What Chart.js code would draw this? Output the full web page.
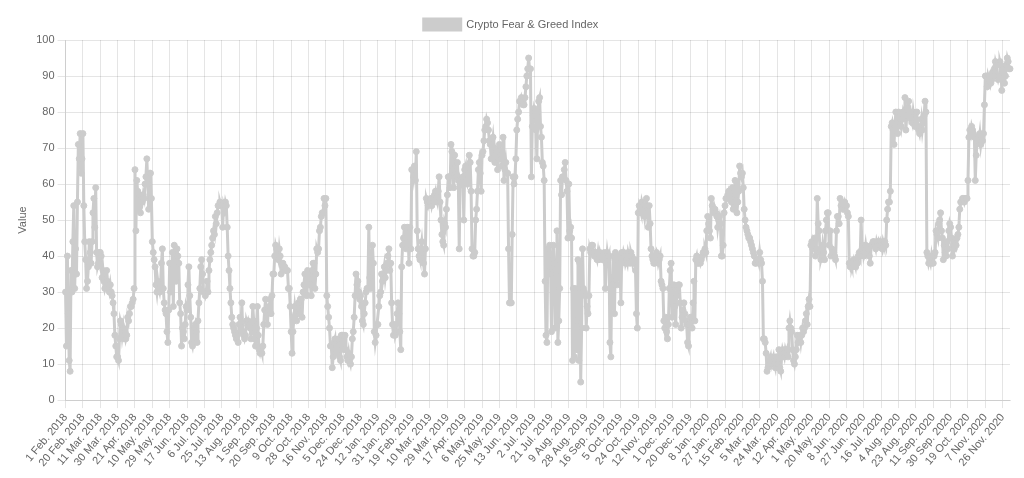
<!DOCTYPE html>
<html>
<head>
<meta charset="utf-8">
<title>Crypto Fear &amp; Greed Index</title>
<script src="https://cdn.jsdelivr.net/npm/chart.js@4.4.1/dist/chart.umd.min.js"></script>
<style>
    html, body { margin: 0; padding: 0; background: #fff; }
    #wrap { width: 1024px; height: 478px; }
</style>
</head>
<body>
<div id="wrap"><canvas id="fngChart"></canvas></div>
<script>
/* ===============================
   DATA (daily index values)
   one row = 19 days = one x tick
   =============================== */
const seriesLabel = "Crypto Fear & Greed Index";

// first day of the series and the days absent from the feed
const firstDay = "2018-02-01";
const missingDays = ["2018-04-14", "2018-04-15", "2018-04-16"];
const monthNames = ["Jan", "Feb", "Mar", "Apr", "May", "Jun", "Jul", "Aug", "Sep", "Oct", "Nov", "Dec"];

// 1 Feb 2018 .. 31 Dec 2018
const values2018 = [
    30,15,40,24,11,8,36,30,44,54,31,42,35,55,71,67,74,63,67,
    74,54,44,39,31,33,37,44,41,38,44,52,56,48,59,41,37,38,41,
    41,40,34,36,33,31,32,36,33,31,30,32,30,29,27,24,18,15,12,
    12,11,17,22,21,18,20,17,19,17,18,23,22,24,26,26,27,28,31,
    64,47,61,58,53,57,52,56,55,57,56,60,62,67,60,53,63,63,56,
    44,41,39,37,32,30,33,31,30,32,38,42,31,27,25,24,19,16,25,
    38,30,35,41,26,43,40,33,42,40,38,27,24,15,20,19,17,21,26,
    25,32,37,29,23,16,15,17,20,21,19,16,22,27,31,37,39,35,30,
    30,29,30,33,30,36,39,41,43,45,47,46,51,49,52,54,54,55,54,
    54,48,54,53,55,54,48,40,36,31,27,23,21,20,19,18,17,18,16,
    21,23,19,27,19,18,17,18,22,21,22,21,20,17,20,26,22,17,15,
    20,26,18,14,13,14,13,15,21,25,28,24,21,25,26,28,24,29,35,
    35,40,43,42,40,39,42,40,35,38,38,37,37,36,36,36,31,31,26,
    19,13,19,23,26,24,22,26,27,24,28,28,23,30,32,35,32,29,36,
    32,35,32,29,36,38,38,31,35,42,41,42,47,48,51,52,52,56,54,
    56,29,26,23,20,15,15,9,12,16,17,13,15,14,17,12,11,18,18,
    18,14,18,14,12,11,13,11,10,12,17,19,23,29,35,32,33,30,28,
    29,26,22,21,24,27,30,31
];

// 1 Jan 2019 .. 31 Dec 2019
const values2019 = [
                            31,48,34,31,38,43,38,19,16,18,21,
    21,26,29,30,35,33,35,37,34,36,38,40,42,36,38,27,21,18,21,
    18,19,24,27,24,19,14,37,43,45,48,45,42,48,46,38,48,42,64,
    64,62,65,61,69,47,42,40,39,42,44,41,38,35,42,56,55,54,55,
    55,56,54,55,55,57,58,56,55,58,62,55,50,46,44,43,49,48,53,
    57,62,62,59,71,69,64,59,68,65,62,66,61,42,61,60,60,62,50,
    64,65,61,60,61,68,66,58,42,40,40,41,50,53,58,64,66,63,58,
    68,69,72,75,76,78,77,75,72,71,67,71,73,70,66,68,69,64,67,
    71,68,67,65,73,61,64,66,63,63,42,27,27,27,46,62,60,62,67,
    75,78,80,83,83,84,83,82,82,84,87,90,92,95,92,92,62,76,79,
    81,80,75,67,80,83,84,76,73,66,65,61,33,18,16,42,35,43,37,
    19,39,43,38,20,35,47,16,22,31,61,57,62,62,64,66,61,58,45,
    60,47,48,45,11,31,12,31,22,14,39,11,38,5,20,42,31,30,29,
    20,26,24,29,42,41,43,43,41,40,41,40,39,41,39,41,40,40,39,
    39,41,31,38,41,39,40,16,12,33,32,40,24,41,39,32,40,40,38,
    27,41,39,41,40,38,39,38,41,40,38,41,40,38,39,39,36,24,20,
    52,54,53,52,55,54,53,51,54,56,52,48,54,49,42,40,39,38,38,
    40,41,40,38,39,40,33,32,31,22,20,23,19,17,21,31,36,38,23,
    27,32,26,21,29,31,32,32,27,20,23,25,27,24,22,21,16,15,21,
    23,23,20,27,33,22,39,40,38,38,39,38
];

// 1 Jan 2020 .. 4 Dec 2020
const values2020 = [
                                                    39,40,41,41,42,41,47,
    51,49,47,45,56,54,53,52,53,52,51,48,50,51,49,40,40,43,52,
    54,56,56,57,58,57,56,55,59,53,55,61,57,52,55,58,65,63,62,
    63,59,53,50,48,47,46,45,45,44,43,42,41,40,38,38,39,39,38,
    41,39,38,33,17,17,16,13,8,9,10,11,12,10,11,12,10,9,12,
    9,10,14,9,8,12,14,13,12,14,13,14,12,20,22,20,19,14,11,
    10,12,14,18,16,17,18,16,18,20,19,20,22,24,21,26,28,26,43,
    44,42,43,45,40,42,56,49,47,41,39,40,43,41,39,47,50,52,52,
    43,47,40,42,41,41,40,39,47,51,51,49,56,54,54,53,54,55,54,
    54,52,51,38,37,38,37,38,39,38,37,39,38,40,41,40,50,42,43,
    40,41,43,41,42,42,40,38,43,43,44,44,43,42,44,43,44,43,44,
    43,42,44,43,44,43,50,53,55,55,58,76,77,75,71,76,80,76,74,
    80,77,78,76,78,80,79,84,75,79,81,83,79,80,78,77,80,78,76,
    78,80,76,75,74,76,78,75,77,79,83,80,41,40,38,39,38,40,38,
    38,40,41,47,46,45,49,50,52,47,45,39,43,41,40,44,42,47,49,
    48,45,40,43,42,44,43,45,46,48,53,55,55,56,56,55,56,56,56,
    61,73,75,74,76,75,74,73,61,68,72,73,72,74,71,73,72,74,82,
    90,90,87,90,89,90,88,89,91,90,92,94,93,90,89,90,94,93,86,
    91,92,88,90,93,95,94,92,92
];

const values = values2018.concat(values2019, values2020);

/* ===============================
   DATE LABELS
   =============================== */
function buildDateLabels(count) {
    const labels = [];
    const d = new Date(firstDay + "T00:00:00Z");
    while (labels.length < count) {
        const iso = d.toISOString().slice(0, 10);
        if (!missingDays.includes(iso)) {
            labels.push(d.getUTCDate() + " " + monthNames[d.getUTCMonth()] + ". " + d.getUTCFullYear());
        }
        d.setUTCDate(d.getUTCDate() + 1);
    }
    return labels;
}

const dateLabels = buildDateLabels(values.length);

/* ===============================
   CHART
   =============================== */
const TICK_EVERY = 19;
const GREY = "rgb(204, 204, 204)";

Chart.defaults.font.family = "'Helvetica Neue', 'Helvetica', 'Arial', sans-serif";
Chart.defaults.font.size = 11;
Chart.defaults.color = "#666";

new Chart(document.getElementById("fngChart"), {
    type: "line",
    data: {
        labels: dateLabels,
        datasets: [{
            label: seriesLabel,
            data: values,
            borderColor: GREY,
            backgroundColor: GREY,
            borderWidth: 3,
            pointRadius: 3,
            pointBorderWidth: 1,
            pointBackgroundColor: GREY,
            pointBorderColor: GREY,
            tension: 0,
            fill: false
        }]
    },
    options: {
        responsive: true,
        maintainAspectRatio: false,
        animation: false,
        layout: { padding: { top: 9, left: 12, right: 14, bottom: 5 } },
        plugins: {
            legend: {
                labels: { boxWidth: 37 }
            },
            tooltip: { enabled: false }
        },
        scales: {
            x: {
                grid: { color: "rgba(0,0,0,0.1)", tickLength: 8 },
                ticks: {
                    padding: 3,
                    autoSkip: false,
                    minRotation: 50,
                    maxRotation: 50,
                    // only every 19th day gets a tick (and a grid line)
                    callback: function (val, i) {
                        return i % TICK_EVERY === 0 ? this.getLabelForValue(val) : null;
                    }
                }
            },
            y: {
                min: 0,
                max: 100,
                grid: { color: "rgba(0,0,0,0.1)", tickLength: 8 },
                ticks: { stepSize: 10 },
                title: { display: true, text: "Value" }
            }
        }
    }
});
</script>
</body>
</html>
